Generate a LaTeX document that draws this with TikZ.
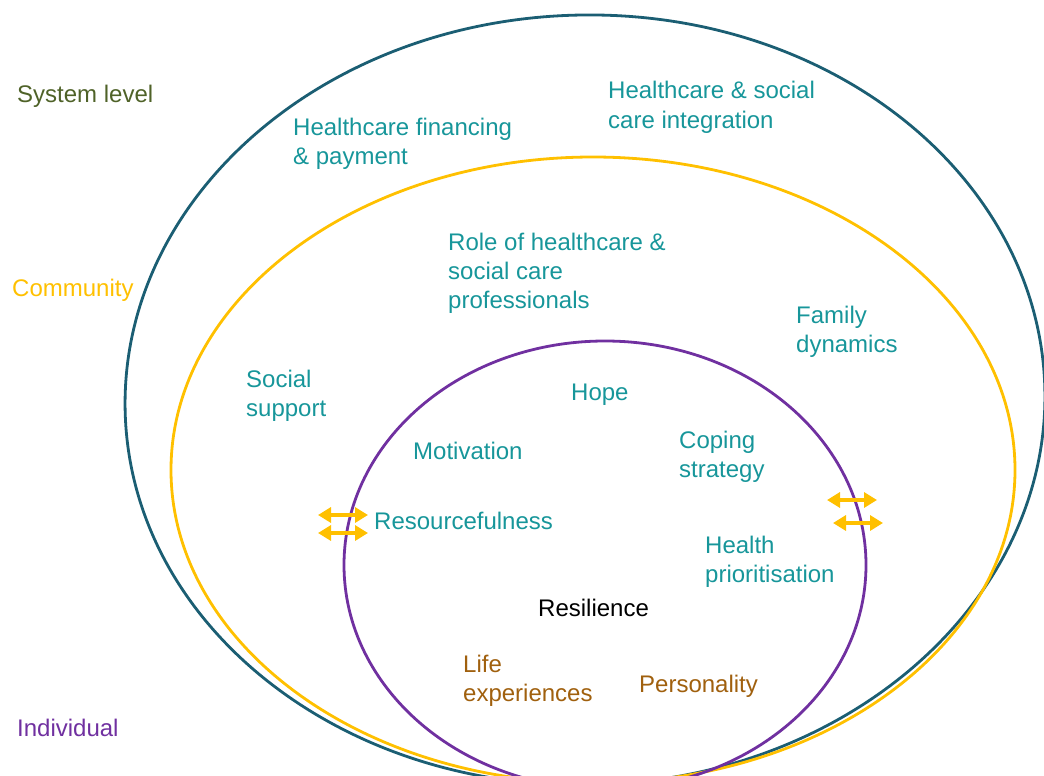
\documentclass[tikz,border=0pt]{standalone}
\usepackage{fontspec}
\setmainfont{Liberation Sans}
\usetikzlibrary{arrows.meta}
\definecolor{outerc}{HTML}{1B5E73}
\definecolor{commc}{HTML}{FFC000}
\definecolor{indc}{HTML}{7030A0}
\definecolor{tealtxt}{HTML}{17969A}
\definecolor{browntxt}{HTML}{A0600E}
\definecolor{syslvl}{HTML}{4F6228}
\tikzset{
  lbl/.style={anchor=base west, inner sep=0pt, align=left, font=\fontsize{24}{29}\selectfont},
  factor/.style={lbl, text=tealtxt},
  trait/.style={lbl, text=browntxt},
  ring/.style={line width=2.8pt},
  link/.style={draw=commc, line width=4pt, {Triangle[length=13pt,width=15pt]}-{Triangle[length=13pt,width=15pt]}}
}
\begin{document}
\begin{tikzpicture}[x=1pt,y=-1pt]
\useasboundingbox (0,0) rectangle (1044,776);
\begin{scope}
\clip (0,0) rectangle (1044,776);
\draw[ring, outerc, rotate around={1.5:(585,400)}] (585,400) ellipse[x radius=460, y radius=385];
\draw[ring, commc] (593,470) ellipse[x radius=422, y radius=313];
\draw[ring, indc] (605,565) ellipse[x radius=261, y radius=224];
\end{scope}
% base anchor of a multi-line node is the baseline of its last line
\node[lbl, text=syslvl] (sys) at (17,102) {System level};
\node[lbl, text=commc] (com) at (12,296) {Community};
\node[lbl, text=indc] (ind) at (17,736) {Individual};
\node[factor] (fin) at (293,164) {Healthcare financing\\\& payment};
\node[factor] (integ) at (608,128) {Healthcare \& social\\care integration};
\node[factor] (role) at (448,308) {Role of healthcare \&\\social care\\professionals};
\node[factor] (fam) at (796,352) {Family\\dynamics};
\node[factor] (soc) at (246,416) {Social\\support};
\node[factor] (hope) at (571,400) {Hope};
\node[factor] (mot) at (413,459) {Motivation};
\node[factor] (cop) at (679,477) {Coping\\strategy};
\node[factor] (res) at (374,529) {Resourcefulness};
\node[factor] (hp) at (705,582) {Health\\prioritisation};
\node[lbl] (resil) at (538,616) {Resilience};
\node[trait] (life) at (463,701) {Life\\experiences};
\node[trait] (pers) at (639,692) {Personality};
\coordinate (l1a) at (318,515); \coordinate (l1b) at (368,515);
\coordinate (l2a) at (318,533); \coordinate (l2b) at (368,533);
\coordinate (r1a) at (827,500); \coordinate (r1b) at (877,500);
\coordinate (r2a) at (833,523); \coordinate (r2b) at (883,523);
\draw[link] (l1a) -- (l1b);
\draw[link] (l2a) -- (l2b);
\draw[link] (r1a) -- (r1b);
\draw[link] (r2a) -- (r2b);
\end{tikzpicture}
\end{document}
